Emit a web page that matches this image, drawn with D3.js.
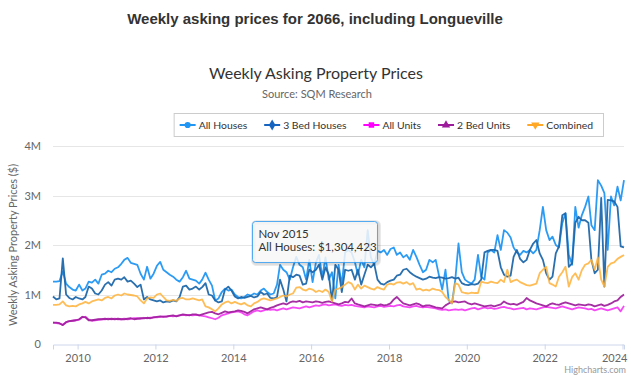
<!DOCTYPE html>
<html>
<head>
<meta charset="utf-8">
<script src="https://cdn.jsdelivr.net/npm/d3@7"></script>
<style>
  body { margin: 0; background: #fff; }
  svg { display: block; }
</style>
</head>
<body>
<div id="chart"></div>
<script>
// Env params
const width = 631;
const height = 378;
const plot = {left: 53, right: 624, top: 146, bottom: 344};
const chartFont = "Lato, 'Liberation Sans', Arial, sans-serif";

// monthly asking prices ($M), first month May 2009, last Jan 2024
const firstMonth = new Date(2009, 4, 15);

const allHouses = [
  1.26, 1.26, 1.27, 1.47, 1.22, 1.15, 1.10, 1.08,
  1.20, 1.08, 1.12, 1.26, 1.24, 1.30, 1.22, 1.40, 1.42, 1.48, 1.45, 1.52,
  1.55, 1.62, 1.70, 1.74, 1.64, 1.62, 1.60, 1.42, 1.30, 1.56, 1.32, 1.42,
  1.58, 1.66, 1.50, 1.45, 1.40, 1.36, 1.30, 1.26, 1.35, 1.48, 1.32, 1.30,
  1.28, 1.22, 1.30, 1.44, 1.30, 1.18, 0.88, 0.92, 1.05, 1.12, 1.08, 1.10,
  1.00, 0.95, 0.92, 0.95, 1.00, 0.98, 1.02, 1.00, 1.08, 1.12, 1.05, 1.00,
  1.02, 1.20, 1.60, 1.50, 1.45, 1.30, 1.55, 1.76, 1.60, 1.55, 1.304423, 1.70,
  1.25, 1.65, 1.80, 1.35, 1.75, 1.30, 1.45, 0.92, 1.60, 1.20, 1.85, 1.90,
  1.85, 1.65, 1.40, 1.70, 1.55, 2.30, 1.75, 1.60, 1.88, 1.85, 1.90, 1.80,
  1.92, 1.95, 1.80, 1.85, 1.75, 1.80, 1.70, 1.90, 1.76, 1.60, 1.45, 1.50,
  1.70, 1.65, 1.70, 1.38, 1.10, 1.50, 0.88, 0.82, 1.30, 2.03, 1.45, 1.30,
  1.25, 1.22, 1.30, 1.80, 1.36, 1.30, 1.85, 1.90, 1.85, 2.20, 1.90, 2.30,
  2.25, 2.15, 1.95, 1.85, 1.80, 1.88, 1.85, 1.90, 1.83, 1.90, 2.30, 2.77,
  2.30, 2.10, 2.17, 2.00, 1.95, 2.44, 2.64, 1.80, 1.60, 2.77, 2.35, 2.60,
  2.77, 2.98, 2.40, 2.30, 3.31, 3.20, 3.05, 1.90, 2.98, 2.80, 3.18, 2.90,
  3.31
];

const threeBedHouses = [
  0.96, 0.90, 0.92, 1.73, 1.00, 0.93, 0.90, 0.95,
  0.92, 0.90, 0.95, 1.16, 1.12, 1.02, 1.00, 1.08, 1.20, 1.25, 1.18, 1.30,
  1.32, 1.30, 1.35, 1.26, 1.28, 1.22, 1.15, 1.20, 0.90, 0.95, 0.90, 0.88,
  0.86, 0.88, 0.84, 0.86, 0.85, 0.88, 0.86, 0.95, 1.16, 1.18, 1.10, 1.12,
  1.16, 1.10, 1.15, 1.23, 1.00, 0.98, 0.88, 0.84, 0.86, 1.10, 1.16, 1.08,
  0.96, 0.92, 0.95, 0.93, 0.95, 0.97, 0.94, 0.96, 1.05, 1.00, 1.02, 0.93,
  0.92, 0.95, 1.30, 1.10, 0.86, 1.38, 1.35, 1.40, 1.38, 1.20, 1.22, 1.50,
  1.45, 1.50, 1.60, 1.30, 1.55, 1.40, 0.86, 1.60, 1.50, 1.05, 1.50, 1.48,
  1.50, 1.30, 1.50, 1.20, 1.40, 1.60, 1.55, 1.62, 1.30, 1.22, 1.20, 1.25,
  1.28, 1.30, 1.38, 1.40, 1.50, 1.52, 1.45, 1.40, 1.36, 1.33, 1.30, 1.32,
  1.36, 1.34, 1.33, 1.35, 1.34, 1.32, 1.33, 1.35, 1.32, 1.34, 1.23, 1.20,
  1.19, 1.21, 1.20, 1.22, 1.30, 1.85, 1.88, 1.90, 1.90, 1.88, 1.55, 1.40,
  1.36, 1.38, 1.76, 1.90, 1.72, 1.65, 1.70, 1.90, 2.03, 2.10, 1.83, 1.70,
  1.43, 1.30, 1.36, 1.83, 1.97, 2.60, 2.64, 1.56, 1.63, 2.45, 2.57, 2.50,
  2.50, 2.45, 1.70, 1.43, 1.50, 2.95, 1.16, 2.91, 2.90, 2.88, 2.77, 1.97,
  1.95
];

const allUnits = [
  0.43, 0.42, 0.41, 0.39, 0.44, 0.46, 0.47, 0.48,
  0.49, 0.54, 0.55, 0.49, 0.47, 0.48, 0.49, 0.50, 0.50, 0.51, 0.50, 0.51,
  0.50, 0.50, 0.51, 0.50, 0.51, 0.52, 0.52, 0.51, 0.53, 0.52, 0.53, 0.54,
  0.54, 0.55, 0.56, 0.55, 0.57, 0.56, 0.57, 0.58, 0.59, 0.58, 0.59, 0.58,
  0.59, 0.58, 0.57, 0.56, 0.54, 0.52, 0.50, 0.53, 0.58, 0.60, 0.62, 0.64,
  0.65, 0.66, 0.64, 0.60, 0.58, 0.62, 0.66, 0.68, 0.66, 0.68, 0.70, 0.69,
  0.70, 0.68, 0.70, 0.72, 0.70, 0.72, 0.74, 0.73, 0.72, 0.74, 0.76, 0.74,
  0.76, 0.78, 0.77, 0.79, 0.80, 0.78, 0.79, 0.80, 0.78, 0.77, 0.79, 0.78,
  0.79, 0.77, 0.76, 0.75, 0.74, 0.76, 0.75, 0.74, 0.76, 0.77, 0.75, 0.76,
  0.77, 0.76, 0.78, 0.79, 0.76, 0.75, 0.74, 0.76, 0.77, 0.75, 0.74, 0.75,
  0.74, 0.73, 0.72, 0.70, 0.69, 0.70, 0.68, 0.69, 0.70, 0.69, 0.70, 0.68,
  0.70, 0.72, 0.73, 0.70, 0.72, 0.74, 0.72, 0.73, 0.71, 0.72, 0.74, 0.75,
  0.73, 0.72, 0.70, 0.71, 0.72, 0.73, 0.70, 0.72, 0.71, 0.70, 0.72, 0.74,
  0.75, 0.74, 0.73, 0.72, 0.74, 0.76, 0.74, 0.72, 0.70, 0.72, 0.74, 0.73,
  0.72, 0.70, 0.71, 0.68, 0.70, 0.72, 0.70, 0.68, 0.70, 0.72, 0.74, 0.66,
  0.77
];

const twoBedUnits = [
  0.43, 0.43, 0.42, 0.38, 0.44, 0.46, 0.47, 0.48,
  0.50, 0.55, 0.54, 0.48, 0.48, 0.49, 0.50, 0.50, 0.51, 0.50, 0.51, 0.50,
  0.51, 0.50, 0.50, 0.51, 0.52, 0.50, 0.51, 0.52, 0.52, 0.53, 0.52, 0.54,
  0.55, 0.56, 0.55, 0.56, 0.57, 0.58, 0.56, 0.58, 0.60, 0.59, 0.58, 0.60,
  0.60, 0.58, 0.60, 0.62, 0.64, 0.65, 0.62, 0.60, 0.63, 0.66, 0.64, 0.65,
  0.66, 0.68, 0.67, 0.65, 0.62, 0.66, 0.70, 0.72, 0.74, 0.72, 0.70, 0.73,
  0.75, 0.78, 0.80, 0.82, 0.80, 0.84, 0.86, 0.85, 0.87, 0.84, 0.86, 0.85,
  0.84, 0.86, 0.85, 0.83, 0.85, 0.86, 0.84, 0.82, 0.80, 0.82, 0.85, 0.84,
  0.92, 0.82, 0.80, 0.78, 0.76, 0.78, 0.80, 0.79, 0.78, 0.80, 0.78, 0.79,
  0.82, 0.90, 0.95, 0.88, 0.82, 0.80, 0.78, 0.80, 0.82, 0.80, 0.76, 0.78,
  0.78, 0.76, 0.74, 0.73, 0.72, 0.78, 0.82, 0.85, 0.86, 0.84, 0.85, 0.86,
  0.82, 0.80, 0.82, 0.80, 0.78, 0.76, 0.77, 0.78, 0.76, 0.78, 0.80, 0.86,
  0.82, 0.80, 0.81, 0.79, 0.82, 0.85, 0.93, 0.88, 0.85, 0.82, 0.80, 0.78,
  0.76, 0.80, 0.82, 0.80, 0.79, 0.82, 0.84, 0.82, 0.80, 0.78, 0.80, 0.79,
  0.78, 0.80, 0.79, 0.76, 0.78, 0.80, 0.77, 0.79, 0.82, 0.86, 0.88, 0.95,
  1.00
];

const combined = [
  0.79, 0.79, 0.80, 0.86, 0.78, 0.76, 0.77, 0.76,
  0.80, 0.82, 0.85, 0.82, 0.86, 0.88, 0.90, 0.88, 0.93, 0.95, 0.92, 0.98,
  1.00, 0.98, 1.02, 1.00, 0.99, 0.98, 0.96, 0.88, 0.82, 0.92, 0.94, 0.93,
  1.00, 1.02, 0.95, 0.88, 0.87, 0.89, 0.87, 0.92, 0.93, 0.90, 0.90, 0.92,
  0.90, 0.88, 0.90, 0.76, 0.74, 0.70, 0.66, 0.72, 0.80, 0.84, 0.86, 0.82,
  0.85, 0.82, 0.80, 0.83, 0.78, 0.76, 0.82, 0.85, 0.90, 0.92, 0.90, 0.88,
  0.90, 0.92, 0.95, 0.98, 0.96, 1.00, 1.02, 1.14, 1.15, 1.10, 1.08, 1.12,
  1.10, 1.05, 1.08, 1.05, 1.10, 1.05, 0.86, 1.10, 1.12, 1.15, 1.20, 1.25,
  1.22, 1.10, 1.20, 1.12, 1.18, 1.15, 1.12, 1.10, 1.15, 1.12, 1.10, 1.20,
  1.22, 1.20, 1.24, 1.25, 1.22, 1.25, 1.20, 1.23, 1.10, 1.12, 1.08, 1.10,
  1.08, 1.12, 1.10, 1.09, 1.05, 0.95, 0.89, 0.82, 1.23, 1.20, 1.05, 1.03,
  1.02, 1.04, 1.03, 1.03, 1.26, 1.24, 1.23, 1.26, 1.24, 1.23, 1.30, 1.25,
  1.50, 1.25, 1.28, 1.30, 1.25, 1.22, 1.19, 1.18, 1.20, 1.22, 1.43, 1.50,
  1.56, 1.23, 1.20, 1.16, 1.36, 1.45, 1.56, 1.16, 1.35, 1.43, 1.30, 1.49,
  1.60, 1.63, 1.70, 1.50, 1.75, 1.30, 1.16, 1.56, 1.63, 1.65, 1.72, 1.76,
  1.80
];

const seriesNames = ["All Houses", "3 Bed Houses", "All Units", "2 Bed Units", "Combined"];
const seriesColors = ["#2196f3", "#1f67aa", "#f53ff5", "#a0239e", "#ffb23a"];
const legendColors = ["#2196f3", "#1565c0", "#ff00ff", "#9c1c9c", "#ffa726"];
const seriesValues = [allHouses, threeBedHouses, allUnits, twoBedUnits, combined];
const xTickYears = [2010, 2012, 2014, 2016, 2018, 2020, 2022, 2024];
const yTicks = [0, 1, 2, 3, 4];

const dates = allHouses.map((d, i) => d3.timeMonth.offset(firstMonth, i));

// draw svg canvas
var svg = d3.select("#chart").append("svg")
  .attr("width", width)
  .attr("height", height)
  .style("background", "#fff");

var x = d3.scaleTime()
  .domain(d3.extent(dates))
  .range([plot.left, plot.right]);

var y = d3.scaleLinear()
  .domain([0, 4])
  .range([plot.bottom, plot.top]);

// page heading
svg.append("text")
  .attr("x", 315)
  .attr("y", 24)
  .attr("text-anchor", "middle")
  .style("font-family", "'Liberation Sans', Arial, sans-serif")
  .style("font-weight", "bold")
  .style("font-size", "15px")
  .style("fill", "#333")
  .text("Weekly asking prices for 2066, including Longueville");

// chart title + subtitle
svg.append("text")
  .attr("x", 316)
  .attr("y", 79)
  .attr("text-anchor", "middle")
  .style("font-family", chartFont)
  .style("font-size", "16px")
  .style("fill", "#333")
  .text("Weekly Asking Property Prices");

svg.append("text")
  .attr("x", 317)
  .attr("y", 98)
  .attr("text-anchor", "middle")
  .style("font-family", chartFont)
  .style("font-size", "11px")
  .style("fill", "#666")
  .text("Source: SQM Research");

// grid lines
svg.append("g")
  .selectAll("line")
  .data(yTicks.filter(d => d > 0))
  .enter().append("line")
  .attr("x1", plot.left)
  .attr("x2", plot.right)
  .attr("y1", d => Math.round(y(d)) + 0.5)
  .attr("y2", d => Math.round(y(d)) + 0.5)
  .attr("stroke", "#e6e6e6");

// y axis labels
svg.append("g")
  .selectAll("text")
  .data(yTicks)
  .enter().append("text")
  .attr("x", 41)
  .attr("y", d => y(d) + 4)
  .attr("text-anchor", "end")
  .style("font-family", chartFont)
  .style("font-size", "11px")
  .style("fill", "#666")
  .text(d => d === 0 ? "0" : d + "M");

// y axis title
svg.append("text")
  .attr("transform", `translate(17, ${(plot.top + plot.bottom) / 2}) rotate(-90)`)
  .attr("text-anchor", "middle")
  .style("font-family", chartFont)
  .style("font-size", "11px")
  .style("fill", "#666")
  .text("Weekly Asking Property Prices ($)");

// x axis
var xAxis = d3.axisBottom(x)
  .tickValues(xTickYears.map(yr => new Date(yr, 0, 1)))
  .tickFormat(d3.timeFormat("%Y"))
  .tickSize(5)
  .tickPadding(5);

var xg = svg.append("g")
  .attr("transform", `translate(0, ${plot.bottom + 0.5})`)
  .call(xAxis);
xg.select(".domain").attr("stroke", "#ccd6eb");
xg.selectAll(".tick line").attr("stroke", "#ccd6eb");
xg.selectAll(".tick text")
  .style("font-family", chartFont)
  .style("font-size", "11px")
  .style("fill", "#666");
// keep the last label inside the chart, like Highcharts does
xg.selectAll(".tick").each(function(d) {
  var t = d3.select(this).select("text");
  var half = t.node().getComputedTextLength() / 2;
  var over = x(d) + half - (width - 4);
  if (over > 0) t.attr("x", -over);
});

// series lines
var line = d3.line()
  .x((d, i) => x(dates[i]))
  .y(d => y(d));

var lines = svg.append("g").attr("class", "series");
seriesValues.forEach(function(vals, k) {
  lines.append("path")
    .datum(vals)
    .attr("fill", "none")
    .attr("stroke", seriesColors[k])
    .attr("stroke-opacity", k === 4 ? 0.85 : 0.95)
    .attr("stroke-width", 1.8)
    .attr("stroke-linejoin", "round")
    .attr("d", line);
});

// legend
var symbols = [d3.symbolCircle, d3.symbolDiamond, d3.symbolSquare, d3.symbolTriangle, d3.symbolTriangle];
var legend = svg.append("g").attr("class", "legend");
var legendBox = legend.append("rect")
  .attr("fill", "#fff")
  .attr("stroke", "#ccc");

var lx = 0;
var items = [];
seriesNames.forEach(function(name, k) {
  var g = legend.append("g");
  g.append("line")
    .attr("x1", 0).attr("x2", 16)
    .attr("y1", 0).attr("y2", 0)
    .attr("stroke", legendColors[k])
    .attr("stroke-width", 2);
  g.append("path")
    .attr("d", d3.symbol().type(symbols[k]).size(k === 1 ? 36 : 30)())
    .attr("transform", "translate(8,0)" + (k === 4 ? " rotate(180)" : ""))
    .attr("fill", legendColors[k]);
  var t = g.append("text")
    .attr("x", 19)
    .attr("y", 4)
    .style("font-family", chartFont)
    .style("font-size", "10.4px")
    .style("fill", "#333")
    .text(name);
  var w = 19 + t.node().getComputedTextLength();
  items.push({g: g, x: lx});
  lx += w + 17;
});
var legendW = lx - 17 + 6 + 10;
var legendRight = 603;
var legendLeft = legendRight - legendW;
legendBox
  .attr("x", legendLeft + 0.5)
  .attr("y", 113.5)
  .attr("width", legendW)
  .attr("height", 23);
items.forEach(function(it) {
  it.g.attr("transform", `translate(${legendLeft + 6 + it.x}, 125)`);
});

// tooltip for Nov 2015, All Houses
var tipIdx = dates.findIndex(d => d.getFullYear() === 2015 && d.getMonth() === 10);
var tipX = x(dates[tipIdx]);
var tipY = y(allHouses[tipIdx]);
var tipW = 125, tipH = 41;
var tipLeft = Math.round(tipX - 54) + 0.5;
var tipTop = Math.round(tipY - 58) + 0.5;
var tip = svg.append("g").attr("class", "tooltip");
[5, 3, 1].forEach(function(sw) {
  tip.append("rect")
    .attr("x", tipLeft + 1).attr("y", tipTop + 1)
    .attr("width", tipW).attr("height", tipH)
    .attr("rx", 3)
    .attr("fill", "none")
    .attr("stroke", "#000")
    .attr("stroke-opacity", 0.05 * sw / 3)
    .attr("stroke-width", sw);
});
tip.append("rect")
  .attr("x", tipLeft).attr("y", tipTop)
  .attr("width", tipW).attr("height", tipH)
  .attr("rx", 3)
  .attr("fill", "rgba(247,247,247,0.85)")
  .attr("stroke", seriesColors[0])
  .attr("stroke-opacity", 0.75);
tip.append("text")
  .attr("x", tipLeft + 6)
  .attr("y", tipTop + 16)
  .style("font-family", chartFont)
  .style("font-size", "11.5px")
  .style("fill", "#333")
  .text(d3.timeFormat("%b %Y")(dates[tipIdx]));
tip.append("text")
  .attr("x", tipLeft + 6)
  .attr("y", tipTop + 29)
  .style("font-family", chartFont)
  .style("font-size", "11.5px")
  .style("fill", "#333")
  .text(seriesNames[0] + ": $" + d3.format(",")(Math.round(allHouses[tipIdx] * 1e6)));

// credits
svg.append("text")
  .attr("x", 626)
  .attr("y", 373)
  .attr("text-anchor", "end")
  .style("font-family", chartFont)
  .style("font-size", "9px")
  .style("fill", "#999")
  .text("Highcharts.com");
</script>
</body>
</html>
